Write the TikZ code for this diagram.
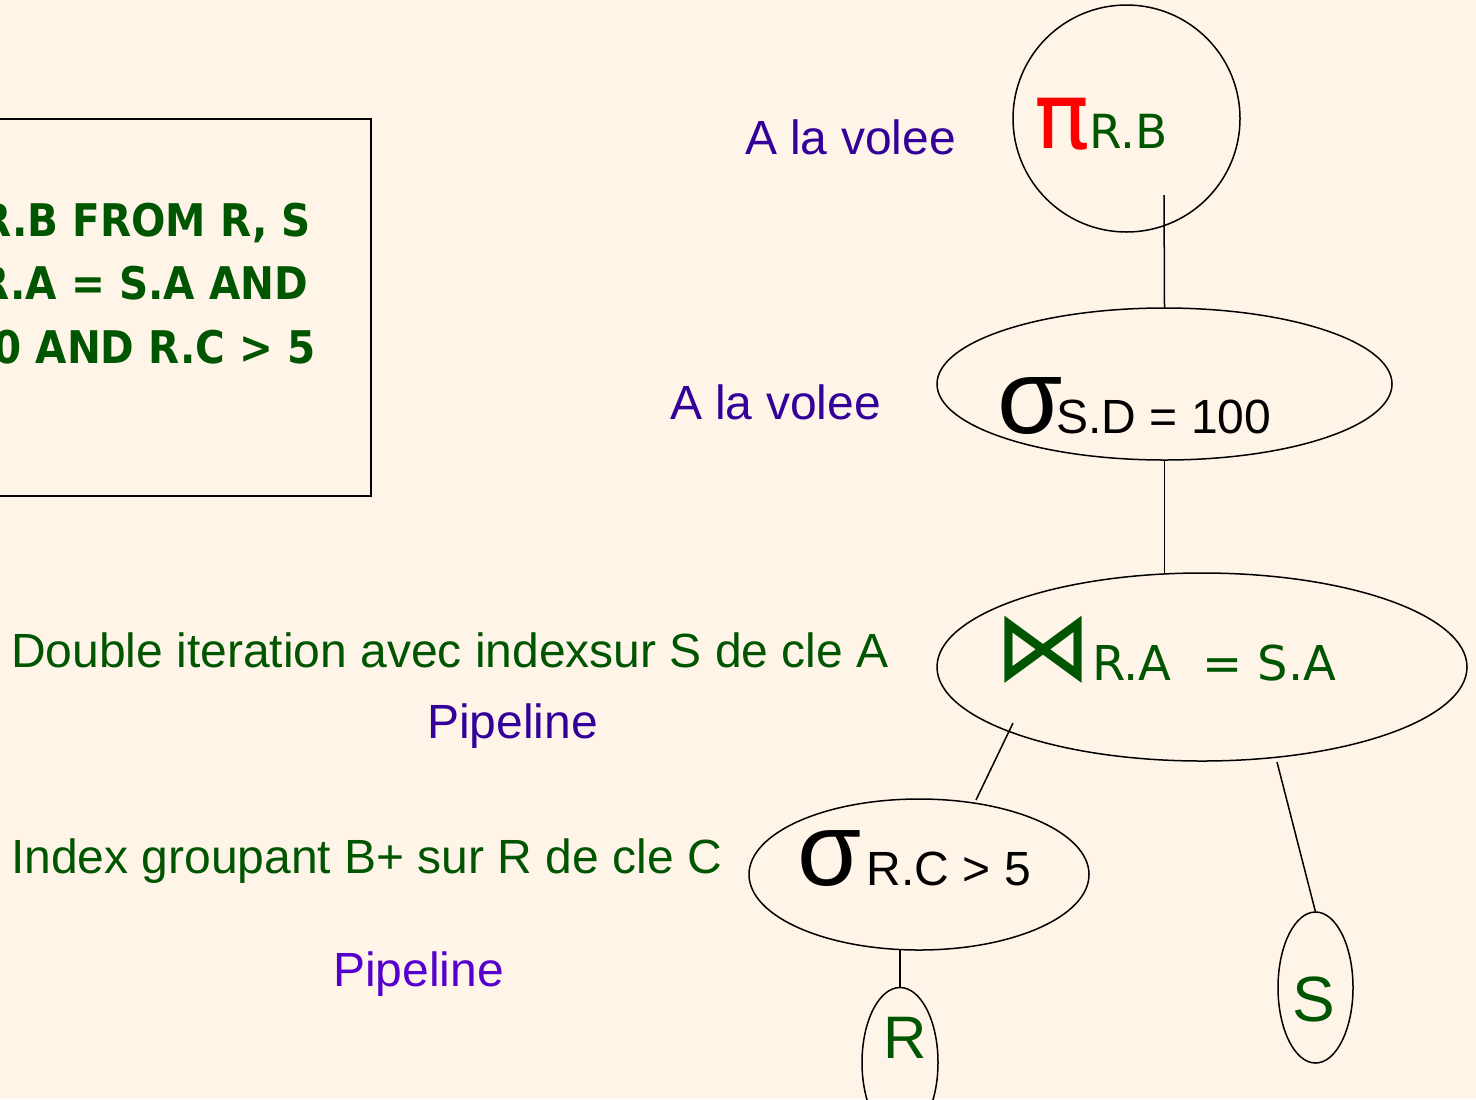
\documentclass[tikz,border=0pt]{standalone}
\usepackage{fontspec}
\setmainfont{Liberation Sans}
\newfontfamily\djv{DejaVu Sans}
\newfontfamily\djvcond[FakeStretch=0.9]{DejaVu Sans}
\usetikzlibrary{shapes.geometric,calc}
\definecolor{bgcream}{RGB}{255,244,232}
\definecolor{opgreen}{RGB}{0,85,0}
\definecolor{notebl}{RGB}{51,0,153}
\definecolor{noteviolet}{RGB}{85,0,204}
\newcommand{\fs}[1]{\fontsize{#1}{#1}\selectfont}

\begin{document}
\begin{tikzpicture}[x=0.5pt, y=-0.5pt, every node/.style={inner sep=0pt, outer sep=0pt}]
\tikzset{
  op/.style={draw, line width=0.75pt, ellipse},
  txt/.style={anchor=base west},
  sqlline/.style={anchor=base east, font=\djvcond\bfseries\fs{22.5}, color=opgreen},
  note/.style={anchor=base west, font=\fs{24}, color=notebl},
  edge/.style={line width=0.75pt}
}
\clip (0,0) rectangle (1476,1099);
\fill[bgcream] (0,0) rectangle (1476,1099);

% requete
\node[draw, line width=1pt, minimum width=190.5pt, minimum height=188.5pt] (sqlbox) at (180.5,307.5) {};
\node[sqlline] (sql1) at (311,236) {R.B FROM R, S};
\node[sqlline] (sql2) at (308,299) {R.A = S.A AND};
\node[sqlline] (sql3) at (316,363) {0 AND R.C > 5};

% arbre
\node[draw, line width=0.75pt, circle, minimum size=113.5pt] (proj) at (1126.5,118.5) {};
\node[op, minimum width=227.5pt, minimum height=76pt] (selD) at (1164.5,384) {};
\node[op, minimum width=265pt, minimum height=94pt] (join) at (1202,667) {};
\node[op, minimum width=170pt, minimum height=75.5pt] (selC) at (919,874.5) {};
\node[op, minimum width=38pt, minimum height=75pt] (relR) at (900,1062.5) {};
\node[op, minimum width=37.5pt, minimum height=75.5pt] (relS) at (1315.5,987.5) {};

\node[txt] (projlbl) at (1034,148) {\djv{\color{red}\fs{46}π}{\color{opgreen}\fs{23.5}R.B}};
\node[txt] (selDlbl) at (997,433) {{\fs{53}σ}\hspace{-3pt}{\fs{24}S.D = 100}};
\node[txt, color=opgreen] (joinlbl) at (994,680) {\djv{\fs{49}⋈}\fs{24}R.A\ \ = S.A};
\node[txt] (selClbl) at (797,885) {{\fs{52}σ} {\fs{24}R.C > 5}};
\node[txt, color=opgreen, font=\fs{30}] (relRlbl) at (883,1058) {R};
\node[txt, color=opgreen, font=\fs{32}] (relSlbl) at (1292,1021) {S};

\draw[edge] ([shift={(37.5,76.5)}]proj.center) -- (selD.north);
\draw[edge] (selD.south) -- (selD.south |- join.north);
\draw[edge] ([shift={(-189,56)}]join.center) -- ([shift={(57,-74.5)}]selC.center);
\draw[edge] ([shift={(75,95)}]join.center) -- (relS.north);
\draw[edge] (relR.north) -- (relR.north |- selC.south);

% annotations
\node[note] (vol1) at (745,154) {A la volee};
\node[note] (vol2) at (670,419) {A la volee};
\node[note, color=opgreen] (algoJ) at (11,667) {Double iteration avec indexsur S de cle A};
\node[note] (pipe1) at (427,738) {Pipeline};
\node[note, color=opgreen] (algoC) at (11,873) {Index groupant B+ sur R de cle C};
\node[note, color=noteviolet] (pipe2) at (333,986) {Pipeline};
\end{tikzpicture}
\end{document}
